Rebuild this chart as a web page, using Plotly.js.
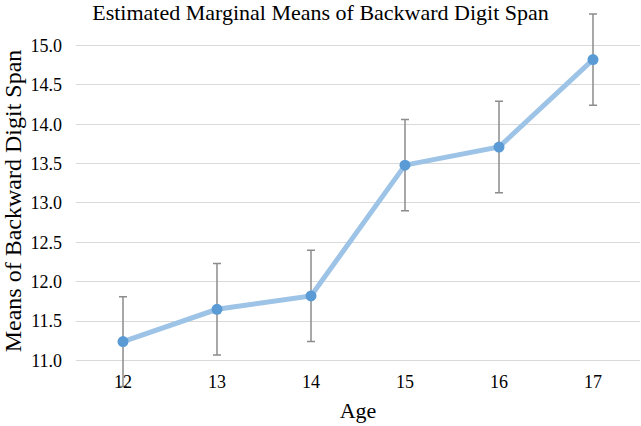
<!DOCTYPE html>
<html>
<head>
<meta charset="utf-8">
<script src="https://cdn.plot.ly/plotly-3.0.1.min.js"></script>
<style>html,body{margin:0;padding:0;background:#fff;}#chart{width:641px;height:426px;}</style>
</head>
<body>
<div id="chart"></div>
<script>
const ages = ["12", "13", "14", "15", "16", "17"];
const means = [11.24, 11.65, 11.82, 13.48, 13.71, 14.82];
const errors = [0.57, 0.58, 0.58, 0.58, 0.58, 0.58];
const yTicks = [11.0, 11.5, 12.0, 12.5, 13.0, 13.5, 14.0, 14.5, 15.0];

const serif = 'Liberation Serif, Times New Roman, Times, serif';
const yMin = 10.6, yMax = 15.45;

const trace = {
  x: ages,
  y: means,
  type: 'scatter',
  mode: 'lines+markers',
  cliponaxis: false,
  line: {color: '#9dc3e6', width: 5},
  marker: {color: '#5b9bd5', size: 11},
  error_y: {type: 'data', array: errors, visible: true, color: '#8c8c8c', thickness: 1.5, width: 4}
};

const layout = {
  width: 641, height: 426,
  margin: {l: 76, r: 1, t: 10, b: 34},
  paper_bgcolor: '#ffffff', plot_bgcolor: 'rgba(0,0,0,0)',
  showlegend: false,
  font: {family: serif, size: 18, color: '#000000'},
  title: {text: 'Estimated Marginal Means of Backward Digit Span', font: {family: serif, size: 22, color: '#000'},
          x: 0.5, xref: 'container', xanchor: 'center', y: 0.99, yref: 'container', yanchor: 'top'},
  xaxis: {
    type: 'category', range: [-0.5, 5.5],
    anchor: 'free', position: (yTicks[0] - yMin) / (yMax - yMin),
    showgrid: false, zeroline: false, showline: false, ticks: '',
    tickfont: {family: serif, size: 18, color: '#000'},
    ticklabelstandoff: 9,
    title: {text: 'Age', font: {family: serif, size: 22, color: '#000'}, standoff: 11}
  },
  yaxis: {
    range: [yMin, yMax], tickvals: yTicks, ticktext: yTicks.map(v => v.toFixed(1)),
    showgrid: true, gridcolor: '#d9d9d9', gridwidth: 1, zeroline: false, showline: false, ticks: '',
    tickfont: {family: serif, size: 18, color: '#000'},
    ticklabelstandoff: 13,
    title: {text: 'Means of Backward Digit Span', font: {family: serif, size: 24, color: '#000'}, standoff: 6}
  }
};

Plotly.newPlot('chart', [trace], layout, {displayModeBar: false, staticPlot: true});
</script>
</body>
</html>
